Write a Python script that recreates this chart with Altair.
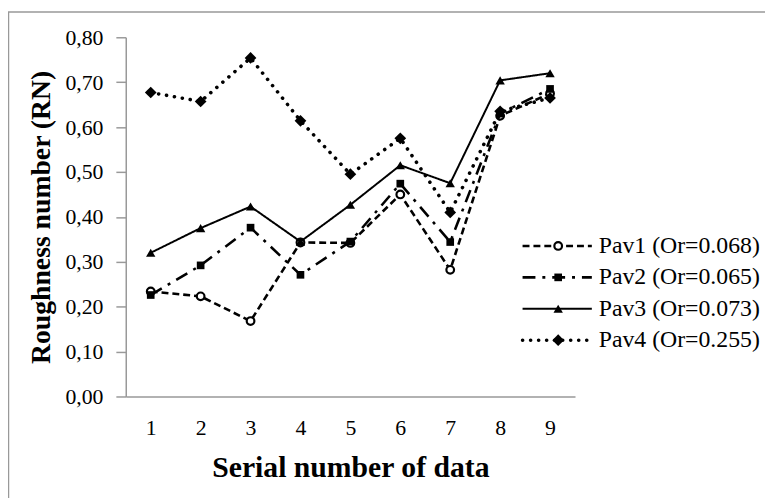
import altair as alt
import pandas as pd

serial = [1, 2, 3, 4, 5, 6, 7, 8, 9]
pav1 = [0.234, 0.223, 0.168, 0.343, 0.342, 0.450, 0.282, 0.625, 0.675]
pav2 = [0.226, 0.292, 0.376, 0.271, 0.345, 0.474, 0.344, 0.630, 0.685]
pav3 = [0.320, 0.375, 0.423, 0.345, 0.427, 0.515, 0.475, 0.704, 0.720]
pav4 = [0.677, 0.657, 0.754, 0.614, 0.495, 0.575, 0.410, 0.635, 0.665]
names = ["Pav1 (Or=0.068)", "Pav2 (Or=0.065)", "Pav3 (Or=0.073)", "Pav4 (Or=0.255)"]
y_ticks = [0.0, 0.1, 0.2, 0.3, 0.4, 0.5, 0.6, 0.7, 0.8]

series = [pav1, pav2, pav3, pav4]
styles = [
    dict(dash=[7, 4], shape="circle", filled=False, size=60, width=2.6, cap="butt"),
    dict(dash=[13, 7, 3, 7], shape="square", filled=True, size=60, width=2.6, cap="butt"),
    dict(dash=[1, 0], shape="triangle-up", filled=True, size=90, width=2.0, cap="butt"),
    dict(dash=[0.1, 8], shape="diamond", filled=True, size=140, width=3.6, cap="round"),
]

FONT = "Liberation Serif"
W, H = 454, 363

x_enc = alt.X("serial:O", scale=alt.Scale(paddingOuter=0.5),
              axis=alt.Axis(title="Serial number of data", labelAngle=0, ticks=False,
                            domainColor="#999999", domainWidth=1.5, labelPadding=21,
                            titlePadding=15, titleFontSize=30))
y_enc = alt.Y("rn:Q", scale=alt.Scale(domain=[0, 0.8]),
              axis=alt.Axis(title="Roughness number (RN)", values=y_ticks, grid=False,
                            labelExpr="replace(format(datum.value, '.2f'), '.', ',')",
                            domainColor="#999999", domainWidth=1.5, tickColor="#999999",
                            tickWidth=1.5, tickSize=10, labelPadding=13, titlePadding=10,
                            titleFontSize=28))

layers = []
for name, vals, st in zip(names, series, styles):
    df = pd.DataFrame({"serial": serial, "rn": vals, "series": name})
    base = alt.Chart(df).encode(x=x_enc, y=y_enc)
    line = base.mark_line(color="black", strokeWidth=st["width"], strokeDash=st["dash"],
                          strokeCap=st["cap"])
    pts = base.mark_point(shape=st["shape"], filled=st["filled"], size=st["size"],
                          color="black", fill="white" if not st["filled"] else "black",
                          strokeWidth=2.2 if not st["filled"] else 1, opacity=1)
    layers += [line, pts]

# legend (drawn as its own small layer, rows positioned via an independent scale)
leg_df = pd.DataFrame({"series": names})
leg_y = alt.Y("series:N", scale=alt.Scale(domain=names, range=[195, 322]), axis=None)
leg_layers = []
for name, st in zip(names, styles):
    d = leg_df[leg_df["series"] == name]
    lb = alt.Chart(d)
    leg_layers.append(lb.mark_rule(color="black", strokeWidth=st["width"], strokeDash=st["dash"],
                                   strokeCap=st["cap"]).encode(
        x=alt.value(401), x2=alt.value(471), y=leg_y))
    leg_layers.append(lb.mark_point(shape=st["shape"], filled=st["filled"], size=st["size"],
                                    color="black", fill="white" if not st["filled"] else "black",
                                    strokeWidth=2.2 if not st["filled"] else 1, opacity=1).encode(
        x=alt.value(437), y=leg_y))
leg_text = alt.Chart(leg_df).mark_text(align="left", baseline="middle", font=FONT,
                                        fontSize=24, color="black").encode(
    x=alt.value(478), y=leg_y, text="series:N")

frame_df = pd.DataFrame({"k": [0]})
frame = alt.Chart(frame_df).mark_rect(fillOpacity=0, stroke="#999999", strokeWidth=1.5).encode(
    x=alt.value(-118.5), x2=alt.value(900), y=alt.value(-25.5), y2=alt.value(700))

main = alt.layer(*layers)
legend = alt.layer(*leg_layers, leg_text)

chart = alt.layer(main, legend, frame).resolve_scale(y="independent").properties(
    width=W, height=H,
    background="white",
    autosize=alt.AutoSizeParams(type="none"),
    padding={"left": 119, "top": 27, "right": 192, "bottom": 100},
).configure_view(stroke=None).configure_axis(
    labelFont=FONT, titleFont=FONT, labelFontSize=22,
    labelColor="black", titleColor="black", titleFontWeight="bold",
)

chart.save("out.html", embed_options={"renderer": "svg", "actions": False})
